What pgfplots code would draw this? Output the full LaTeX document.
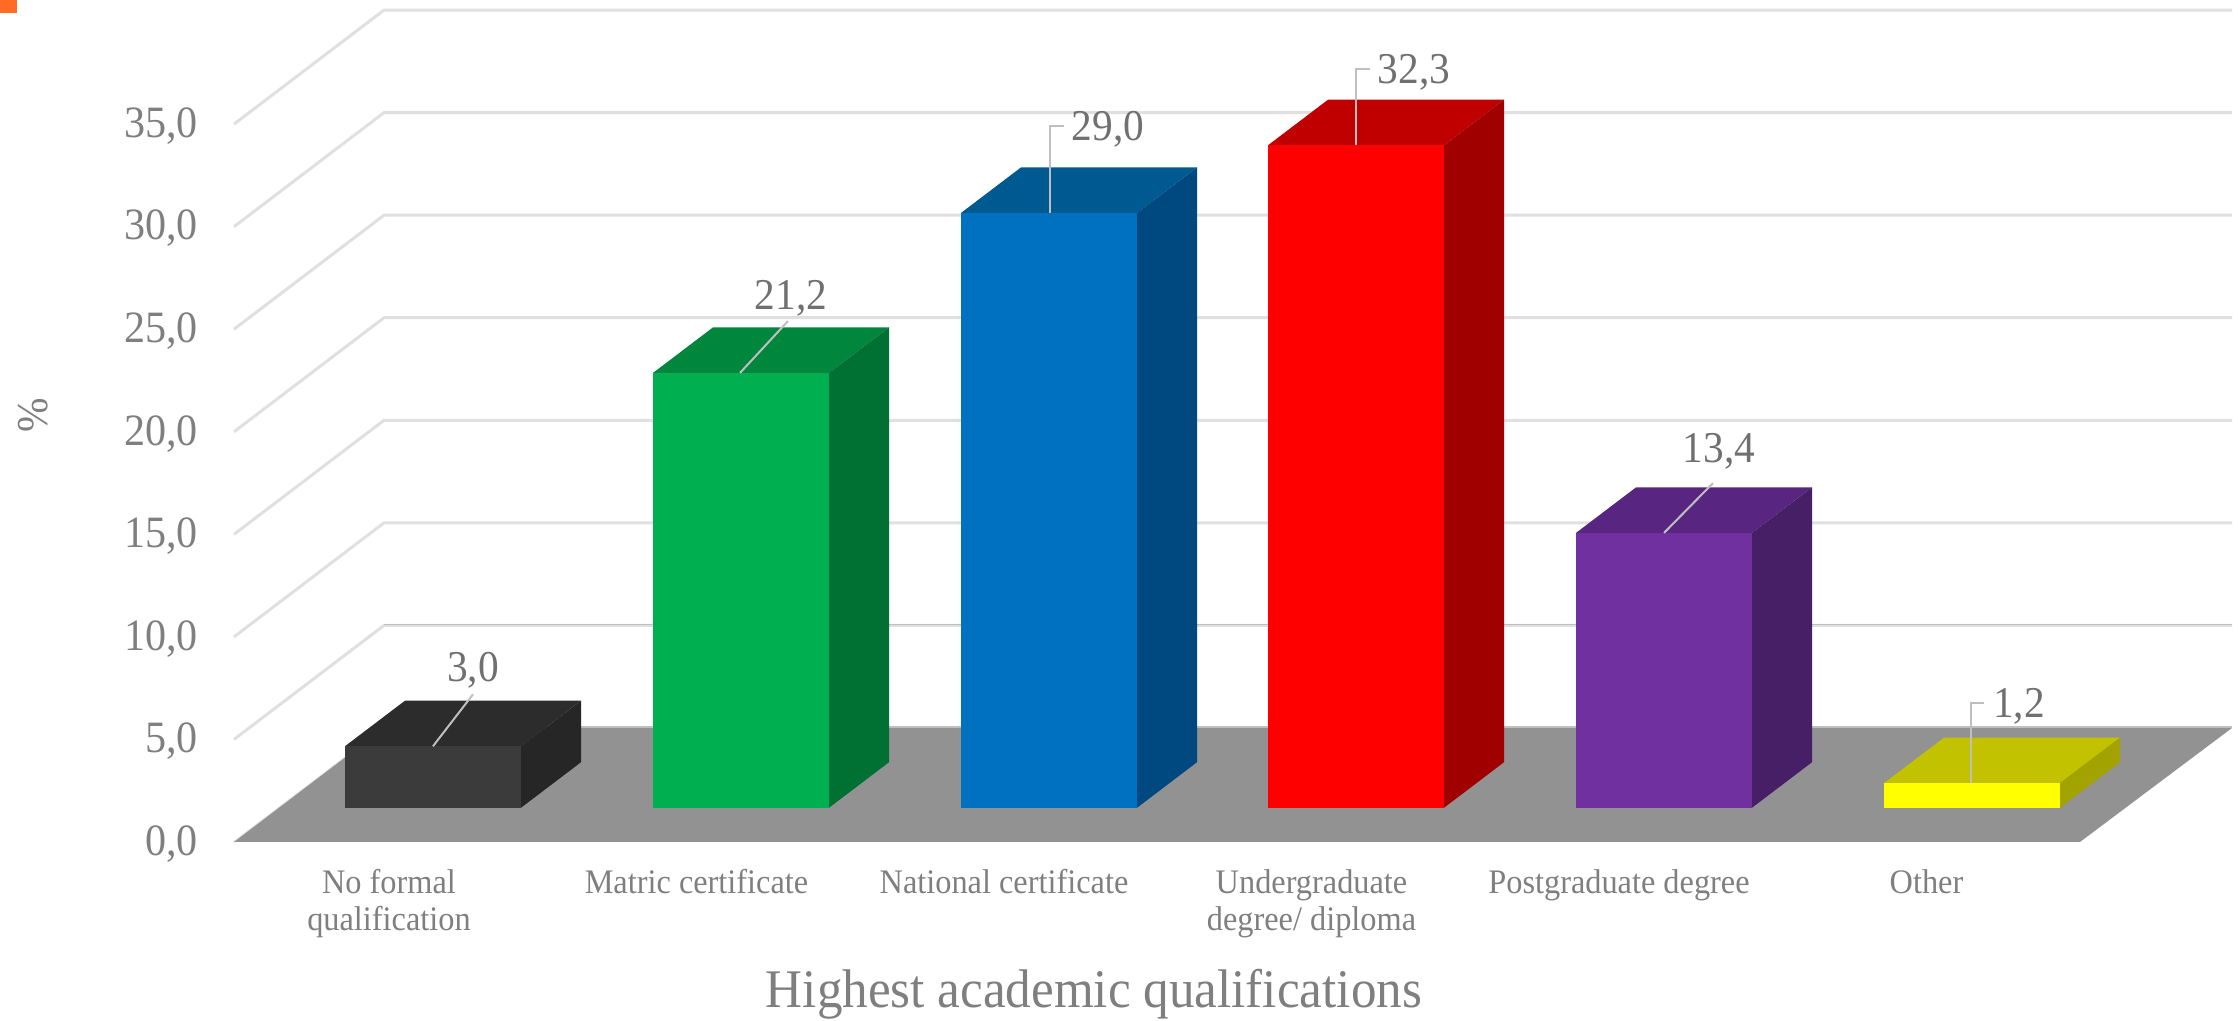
\documentclass[border=0pt]{standalone}
\usepackage{fontspec}
\setmainfont[FakeStretch=0.94]{Liberation Serif}
\usepackage{pgfplots}
\pgfplotsset{compat=1.18}

\definecolor{gridgrey}{HTML}{E0E0E0}
\definecolor{floorgrey}{HTML}{929292}
\definecolor{leader}{HTML}{BFBFBF}
\definecolor{axistext}{HTML}{7F7F7F}
\definecolor{valuetext}{HTML}{707070}
\definecolor{cornermark}{HTML}{FF6A25}
\definecolor{blackF}{HTML}{3B3B3B}\definecolor{blackT}{HTML}{2C2C2C}\definecolor{blackS}{HTML}{262626}
\definecolor{greenF}{HTML}{00B050}\definecolor{greenT}{HTML}{00873D}\definecolor{greenS}{HTML}{007033}
\definecolor{blueF}{HTML}{0070C0}\definecolor{blueT}{HTML}{005A92}\definecolor{blueS}{HTML}{004880}
\definecolor{redF}{HTML}{FF0000}\definecolor{redT}{HTML}{C00000}\definecolor{redS}{HTML}{A00000}
\definecolor{purpleF}{HTML}{7030A0}\definecolor{purpleT}{HTML}{582680}\definecolor{purpleS}{HTML}{471F66}
\definecolor{yellowF}{HTML}{FFFF00}\definecolor{yellowT}{HTML}{C2C200}\definecolor{yellowS}{HTML}{A3A300}

% Oblique box: left edge, value, then front, top and side fill colours.
% The front face stands on the floor 1.67 units above the axis zero;
% the depth is 60 units across and 2.22 units up.
\newcommand{\obliquebar}[5]{%
  \pgfmathsetmacro\xa{#1}%
  \pgfmathsetmacro\xb{#1+176}%
  \pgfmathsetmacro\xc{#1+236}%
  \pgfmathsetmacro\xd{#1+60}%
  \pgfmathsetmacro\ya{1.67}%
  \pgfmathsetmacro\yb{1.67+#2}%
  \pgfmathsetmacro\yc{1.67+#2+2.22}%
  \pgfmathsetmacro\yd{1.67+2.22}%
  \edef\facecmd{%
    \noexpand\addplot[fill=#4,draw=none] coordinates {(\xa,\yb)(\xb,\yb)(\xc,\yc)(\xd,\yc)} --cycle;%
    \noexpand\addplot[fill=#5,draw=none] coordinates {(\xb,\ya)(\xc,\yd)(\xc,\yc)(\xb,\yb)} --cycle;%
    \noexpand\addplot[fill=#3,draw=none] coordinates {(\xa,\ya)(\xb,\ya)(\xb,\yb)(\xa,\yb)} --cycle;%
  }\facecmd
}
% Wall and side-wall line for one gridline level.
\newcommand{\gridlevel}[1]{%
  \pgfmathsetmacro\yfront{#1}%
  \pgfmathsetmacro\yback{#1+5.56}%
  \edef\gridcmd{\noexpand\addplot[gridgrey,line width=1.5pt] coordinates {(234,\yfront)(384,\yback)(2232,\yback)};}\gridcmd
}

\begin{document}
\begin{tikzpicture}
\begin{axis}[
  scale only axis, width=1119.5pt, height=510.5pt,
  xmin=0, xmax=2239, ymin=-8.727, ymax=41.053,
  clip=false,
  axis line style={draw=none},
  major tick length=0pt,
  ytick={0,5,...,35},
  xtick={389,696.5,1004,1311.5,1619,1926.5},
  xticklabels={{\strut No formal\\qualification},{\strut Matric certificate},{\strut National certificate},{\strut Undergraduate\\degree/ diploma},{\strut Postgraduate degree},{\strut Other}},
  x tick label style={anchor=north,align=center,font=\fontsize{17.2}{18.5}\selectfont,text=axistext,yshift=80.3pt},
  y tick label style={anchor=east,text depth=0pt,font=\fontsize{22.4}{24}\selectfont,text=axistext,xshift=102.5pt,yshift=0.8pt,
    /pgf/number format/.cd,fixed,fixed zerofill,precision=1,use comma,assume math mode=true},
  xlabel={Highest academic qualifications},
  ylabel={\%},
  every axis x label/.style={at={(axis description cs:0.4886,0.0264)},anchor=center,font=\fontsize{27.2}{30}\selectfont,text=axistext},
  every axis y label/.style={at={(axis description cs:0.015,0.5935)},anchor=center,rotate=90,font=\fontsize{22}{24}\selectfont,text=axistext},
]
% back wall
\gridlevel{5}\gridlevel{10}\gridlevel{15}\gridlevel{20}\gridlevel{25}\gridlevel{30}\gridlevel{35}
\addplot[leader,line width=0.6pt] coordinates {(384,10.6)(2232,10.6)};
% floor
\addplot[gridgrey,line width=1pt] coordinates {(234,0)(384,5.56)};
\addplot[fill=floorgrey,draw=none] coordinates {(234,0)(2080,0)(2232,5.56)(384,5.56)} --cycle;
\addplot[leader,line width=1pt] coordinates {(384,5.6)(2232,5.6)};
% bars
\obliquebar{345}{3.0}{blackF}{blackT}{blackS}
\obliquebar{653}{21.2}{greenF}{greenT}{greenS}
\obliquebar{961}{29.0}{blueF}{blueT}{blueS}
\obliquebar{1268}{32.3}{redF}{redT}{redS}
\obliquebar{1576}{13.4}{purpleF}{purpleT}{purpleS}
\obliquebar{1884}{1.2}{yellowF}{yellowT}{yellowS}
% leader lines
\addplot[leader,line width=1pt] coordinates {(433,4.67)(473,7.2)};
\addplot[leader,line width=1pt] coordinates {(740,22.87)(788,25.4)};
\addplot[leader,line width=1pt] coordinates {(1050,30.67)(1050,34.9)(1064,34.9)};
\addplot[leader,line width=1pt] coordinates {(1356,33.97)(1356,37.7)(1370,37.7)};
\addplot[leader,line width=1pt] coordinates {(1664,15.07)(1713,17.5)};
\addplot[leader,line width=1pt] coordinates {(1971,2.87)(1971,6.8)(1984,6.8)};
% value labels
\begin{scope}[every node/.style={font=\fontsize{22}{24}\selectfont,text=valuetext,inner sep=0pt,text depth=0pt}]
\node at (axis cs:473,8.54) {3,0};
\node at (axis cs:791,26.65) {21,2};
\node at (axis cs:1108,34.9) {29,0};
\node at (axis cs:1414,37.7) {32,3};
\node at (axis cs:1719,19.2) {13,4};
\node at (axis cs:2019,6.8) {1,2};
\end{scope}
% small square in the top corner
\fill[cornermark] (axis cs:0,41.053) rectangle (axis cs:17,40.42);
\end{axis}
\pgfresetboundingbox
\path[use as bounding box] (0,0) rectangle (1119.5pt,510.5pt);
\end{tikzpicture}
\end{document}
